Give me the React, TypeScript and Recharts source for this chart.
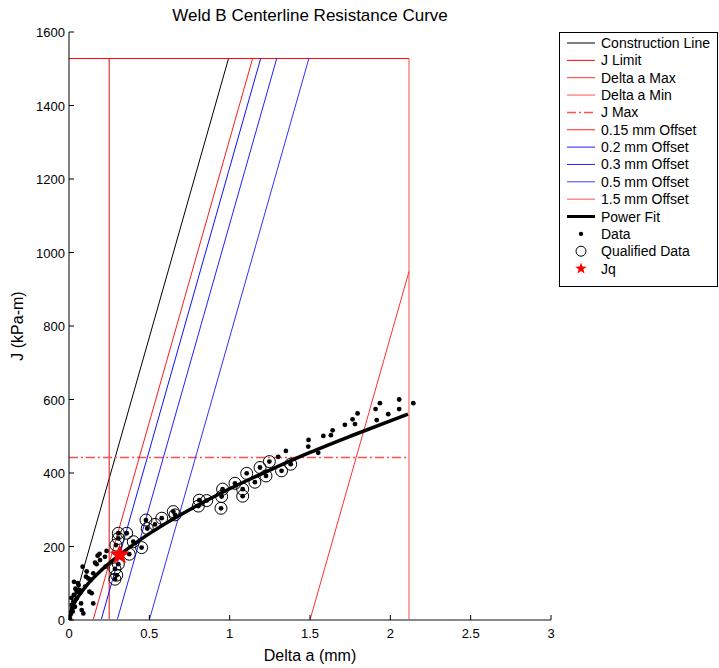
import React from 'react';
import { ComposedChart, XAxis, YAxis, Line, Scatter } from 'recharts';

const FONT = '"Liberation Sans", Arial, Helvetica, sans-serif';

const xTicks = [0, 0.5, 1, 1.5, 2, 2.5, 3];
const yTicks = [0, 200, 400, 600, 800, 1000, 1200, 1400, 1600];

// Straight reference lines (Delta a in mm, J in kPa-m)
const constructionLine = [{ x: 0, y: 0 }, { x: 0.993, y: 1528 }];
const jLimitLine = [{ x: 0, y: 1528 }, { x: 2.116, y: 1528 }];
const deltaAMaxLine = [{ x: 2.116, y: 0 }, { x: 2.116, y: 1528 }];
const deltaAMinLine = [{ x: 0.25, y: 0 }, { x: 0.25, y: 1528 }];
const jMaxLine = [{ x: 0, y: 442 }, { x: 2.116, y: 442 }];
const offset015Line = [{ x: 0.15, y: 0 }, { x: 1.143, y: 1528 }];
const offset02Line = [{ x: 0.2, y: 0 }, { x: 1.193, y: 1528 }];
const offset03Line = [{ x: 0.3, y: 0 }, { x: 1.293, y: 1528 }];
const offset05Line = [{ x: 0.5, y: 0 }, { x: 1.493, y: 1528 }];
const offset15Line = [{ x: 1.5, y: 0 }, { x: 2.116, y: 948 }];

// Power fit curve
const powerFitDeltaA = [0.002, 0.01, 0.02, 0.05, 0.1, 0.2, 0.3, 0.5, 0.75, 1, 1.25, 1.5, 1.75, 2, 2.11];
const powerFitJ = [8, 22, 34, 59, 89, 135, 172, 235, 300, 357, 408, 456, 500, 542, 560];

// Data points not qualified (small black dots only)
const otherDeltaA = [0.005, 0.01, 0.015, 0.017, 0.02, 0.023, 0.027, 0.031, 0.037, 0.04, 0.048, 0.048, 0.06, 0.068, 0.075, 0.079, 0.085, 0.089, 0.1, 0.106, 0.12, 0.127, 0.141, 0.151, 0.151, 0.162, 0.172, 0.178, 0.193, 0.224, 0.228, 0.234,
  0.03, 0.055, 0.065, 0.11, 0.135, 0.19,
  1.302, 1.35, 1.489, 1.491, 1.551, 1.583, 1.63, 1.641, 1.717, 1.765, 1.78, 1.796, 1.908, 1.915, 1.935, 1.987, 2.055, 2.055, 2.143];
const otherJ = [5, 15, 60, 41, 30, 23, 50, 104, 36, 85, 59, 77, 95, 73, 45, 27, 145, 18, 91, 118, 113, 77, 73, 127, 45, 156, 152, 175, 163, 172, 145, 188,
  68, 100, 82, 132, 110, 180,
  444, 460, 472, 490, 455, 501, 503, 516, 531, 546, 533, 562, 574, 544, 590, 560, 600, 574, 590];

// Qualified data points (dot + open circle)
const qualifiedDeltaA = [0.286, 0.297, 0.286, 0.307, 0.292, 0.307, 0.307, 0.359, 0.375, 0.4, 0.452, 0.479, 0.487, 0.535, 0.577, 0.649, 0.66, 0.805, 0.811, 0.857, 0.946, 0.95, 0.956, 1.033, 1.081, 1.081, 1.106, 1.157, 1.189, 1.226, 1.247, 1.323, 1.38];
const qualifiedJ = [111, 122, 139, 152, 204, 222, 236, 236, 179, 213, 197, 272, 249, 260, 277, 295, 286, 310, 326, 325, 304, 336, 356, 372, 337, 356, 399, 375, 415, 392, 431, 406, 424];

const jqDeltaA = [0.315];
const jqJ = [177];

const toPts = (xs: number[], ys: number[]) => xs.map((x, i) => ({ x, y: ys[i] }));
const powerFit = toPts(powerFitDeltaA, powerFitJ);
const qualifiedPts = toPts(qualifiedDeltaA, qualifiedJ);
const dataPts = [...toPts(otherDeltaA, otherJ), ...qualifiedPts];
const jqPts = toPts(jqDeltaA, jqJ);

const C = {
  construction: '#000000',
  jLimit: '#ff0000',
  daMax: '#ff4a4a',
  daMin: '#e00a0a',
  jMax: '#ff5050',
  o015: '#ff1a1a',
  o02: '#1010ff',
  o03: '#2020ff',
  o05: '#3030ff',
  o15: '#ff3030',
};

const BottomTick = (p: any) => (
  <g>
    <line x1={p.x} y1={p.y} x2={p.x} y2={p.y - 5} stroke="#000" />
    <text x={p.x} y={p.y + 18} textAnchor="middle" fontSize={13} fontFamily={FONT} fill="#000">{p.payload.value}</text>
  </g>
);
const TopTick = (p: any) => (
  <line x1={p.x} y1={p.y} x2={p.x} y2={p.y + 5} stroke="#000" />
);
const LeftTick = (p: any) => (
  <g>
    <line x1={p.x} y1={p.y} x2={p.x + 5} y2={p.y} stroke="#000" />
    <text x={p.x - 4} y={p.y + 5} textAnchor="end" fontSize={13} fontFamily={FONT} fill="#000">{p.payload.value}</text>
  </g>
);
const RightTick = (p: any) => (
  <line x1={p.x} y1={p.y} x2={p.x - 5} y2={p.y} stroke="#000" />
);

const DotShape = (p: any) => <circle cx={p.cx} cy={p.cy} r={2.4} fill="#000" />;
const RingShape = (p: any) => <circle cx={p.cx} cy={p.cy} r={6} fill="none" stroke="#000" strokeWidth={1} />;
const starPath = (cx: number, cy: number, ro: number, ri: number) => {
  let d = '';
  for (let i = 0; i < 10; i++) {
    const r = i % 2 === 0 ? ro : ri;
    const a = -Math.PI / 2 + (i * Math.PI) / 5;
    d += (i === 0 ? 'M' : 'L') + (cx + r * Math.cos(a)).toFixed(2) + ',' + (cy + r * Math.sin(a)).toFixed(2);
  }
  return d + 'Z';
};
const StarShape = (p: any) => <path d={starPath(p.cx, p.cy, 9.5, 4)} fill="#ff0000" stroke="#ff0000" />;

type LegendItem = { label: string; kind: 'line' | 'dot' | 'ring' | 'star'; color?: string; width?: number; dash?: string };
const legendItems: LegendItem[] = [
  { label: 'Construction Line', kind: 'line', color: C.construction },
  { label: 'J Limit', kind: 'line', color: C.jLimit },
  { label: 'Delta a Max', kind: 'line', color: '#ff3030' },
  { label: 'Delta a Min', kind: 'line', color: '#ff5050' },
  { label: 'J Max', kind: 'line', color: '#ff5050', dash: '9 3 2 3', width: 1.5 },
  { label: '0.15 mm Offset', kind: 'line', color: '#ff2020' },
  { label: '0.2 mm Offset', kind: 'line', color: '#2020ff' },
  { label: '0.3 mm Offset', kind: 'line', color: '#2020ff' },
  { label: '0.5 mm Offset', kind: 'line', color: '#4040ff' },
  { label: '1.5 mm Offset', kind: 'line', color: '#ff5050' },
  { label: 'Power Fit', kind: 'line', color: '#000', width: 3 },
  { label: 'Data', kind: 'dot' },
  { label: 'Qualified Data', kind: 'ring' },
  { label: 'Jq', kind: 'star' },
];

const Legend = () => (
  <svg width={160} height={256} style={{ position: 'absolute', left: 559, top: 32 }}>
    <rect x={0.5} y={0.5} width={158} height={254} fill="#fff" stroke="#000" />
    {legendItems.map((it, i) => {
      const y = 11 + i * 17.35;
      return (
        <g key={it.label}>
          {it.kind === 'line' && (
            <line x1={8} y1={y} x2={36} y2={y} stroke={it.color} strokeWidth={it.width || 1} strokeDasharray={it.dash} />
          )}
          {it.kind === 'dot' && <circle cx={22} cy={y} r={2.2} fill="#000" />}
          {it.kind === 'ring' && <circle cx={22} cy={y} r={5} fill="none" stroke="#000" />}
          {it.kind === 'star' && <path d={starPath(22, y, 6, 2.5)} fill="#ff0000" />}
          <text x={42} y={y + 5} fontSize={14} fontFamily={FONT} fill="#000">{it.label}</text>
        </g>
      );
    })}
  </svg>
);

const refLines: { data: { x: number; y: number }[]; color: string; dash?: string; width?: number }[] = [
  { data: constructionLine, color: C.construction },
  { data: jLimitLine, color: C.jLimit },
  { data: deltaAMaxLine, color: C.daMax },
  { data: deltaAMinLine, color: C.daMin },
  { data: jMaxLine, color: C.jMax, dash: '9 3 2 3', width: 1.5 },
  { data: offset015Line, color: C.o015 },
  { data: offset02Line, color: C.o02 },
  { data: offset03Line, color: C.o03 },
  { data: offset05Line, color: C.o05 },
  { data: offset15Line, color: C.o15 },
];

export default function App() {
  return (
    <div style={{ position: 'absolute', left: 0, top: 0, width: 719, height: 668, background: '#fff' }}>
      <ComposedChart width={719} height={668} margin={{ top: 32, right: 168, bottom: 0, left: 0 }}>
        <XAxis xAxisId="b" dataKey="x" type="number" domain={[0, 3]} ticks={xTicks} allowDataOverflow
          orientation="bottom" height={48} tickSize={0} tickMargin={0} tickLine={false}
          axisLine={{ stroke: '#888', strokeWidth: 2 }} tick={<BottomTick />} interval={0} />
        <XAxis xAxisId="t" dataKey="x" type="number" domain={[0, 3]} ticks={xTicks} allowDataOverflow
          orientation="top" height={0} tickSize={0} tickMargin={0} tickLine={false}
          axisLine={{ stroke: '#000' }} tick={<TopTick />} interval={0} />
        <YAxis yAxisId="l" type="number" domain={[0, 1600]} ticks={yTicks} allowDataOverflow
          orientation="left" width={69} tickSize={0} tickMargin={0} tickLine={false}
          axisLine={{ stroke: '#000' }} tick={<LeftTick />} interval={0} />
        <YAxis yAxisId="r" type="number" domain={[0, 1600]} ticks={yTicks} allowDataOverflow
          orientation="right" width={0} tickSize={0} tickMargin={0} tickLine={false}
          axisLine={{ stroke: '#000' }} tick={<RightTick />} interval={0} />
        {refLines.map((l, i) => (
          <Line key={i} xAxisId="b" yAxisId="l" data={l.data} dataKey="y" type="linear" stroke={l.color}
            strokeWidth={l.width || 1} strokeDasharray={l.dash} dot={false} activeDot={false} isAnimationActive={false} legendType="none" />
        ))}
        <Scatter xAxisId="b" yAxisId="l" data={qualifiedPts} dataKey="y" shape={RingShape} isAnimationActive={false} />
        <Line xAxisId="b" yAxisId="l" data={powerFit} dataKey="y" type="monotone" stroke="#000" strokeWidth={3.5}
          dot={false} activeDot={false} isAnimationActive={false} />
        <Scatter xAxisId="b" yAxisId="l" data={dataPts} dataKey="y" shape={DotShape} isAnimationActive={false} />
        <Scatter xAxisId="b" yAxisId="l" data={jqPts} dataKey="y" shape={StarShape} isAnimationActive={false} />
      </ComposedChart>
      <svg width={719} height={668} style={{ position: 'absolute', left: 0, top: 0, pointerEvents: 'none' }}>
        <text x={310} y={21} textAnchor="middle" fontSize={17} fontFamily={FONT} fill="#000">Weld B Centerline Resistance Curve</text>
        <text x={310} y={661} textAnchor="middle" fontSize={16} fontFamily={FONT} fill="#000">Delta a (mm)</text>
        <text x={0} y={0} transform="translate(23,326) rotate(-90)" textAnchor="middle" fontSize={16} fontFamily={FONT} fill="#000">J (kPa-m)</text>
      </svg>
      <Legend />
    </div>
  );
}
